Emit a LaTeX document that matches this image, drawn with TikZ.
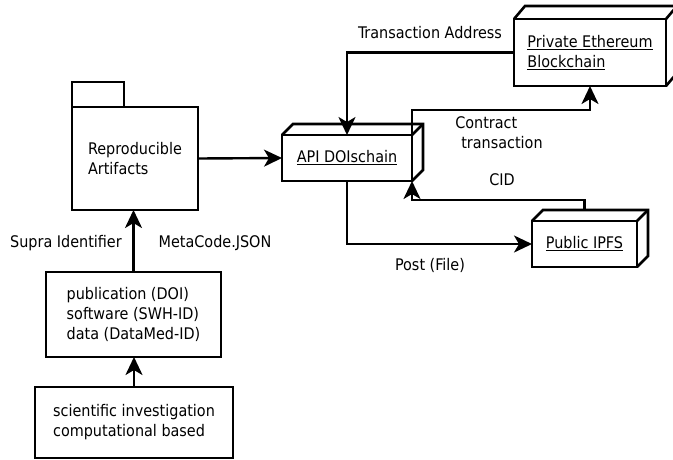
\documentclass[tikz,border=0pt]{standalone}
\usepackage{fontspec}
\setmainfont{DejaVu Sans Condensed}
\usetikzlibrary{arrows.meta,calc}

% side and top faces of a 3-D box drawn behind a node
\newcommand\cubefaces[3]{%
  \draw[thickline] (#1.north west) -- ++(#2,-#3)
    -- ($(#1.north east)+(#2,-#3)$) -- ($(#1.south east)+(#2,-#3)$)
    -- (#1.south east);
  \draw[thickline] (#1.north east) -- ++(#2,-#3);}

\begin{document}
\begin{tikzpicture}[x=1pt,y=-1pt,
  every node/.style={font=\fontsize{16}{20}\selectfont, inner sep=0pt, outer sep=0pt},
  thickline/.style={line width=2.6pt, line join=miter},
  box/.style={draw, thickline},
  link/.style={line width=2.4pt, -{Stealth[length=18pt,width=17pt,inset=5pt]}}]
\useasboundingbox (0,0) rectangle (673,459);

% main elements
\node[box, minimum width=126pt, minimum height=103pt, align=left] (art) at (135,158.5)
  {Reproducible\\Artifacts};
\draw[thickline] (art.north west) rectangle ++(52,-25);

\node[box, minimum width=130pt, minimum height=46pt] (api) at (347,158)
  {\underline{API DOIschain}};
\cubefaces{api}{11}{11}

\node[box, minimum width=152pt, minimum height=67pt, align=left] (eth) at (590,52.5)
  {\underline{Private Ethereum}\\\underline{Blockchain}};
\cubefaces{eth}{11}{13}

\node[box, minimum width=105pt, minimum height=46pt] (ipfs) at (584.5,244)
  {\underline{Public IPFS}};
\cubefaces{ipfs}{11}{11}
\coordinate (ipfstop) at ($(ipfs.north)+(0,-11)$);

\node[box, minimum width=175pt, minimum height=85pt, align=left] (pub) at (133.5,314.5)
  {publication (DOI)\\software (SWH-ID)\\data (DataMed-ID)};

\node[box, minimum width=198pt, minimum height=71pt, align=left] (sci) at (134,422.5)
  {scientific investigation\\computational based};

% labels
\node (ta) at (430,33) {Transaction Address};
\node[align=left] (ct) at (499,133) {Contract\\\hspace*{6pt}transaction};
\node (cid) at (502,180) {CID};
\node (pf) at (430,265) {Post (File)};
\node (si) at (66,243) {Supra Identifier};
\node (mc) at (215,243) {MetaCode.JSON};

% connectors
\draw[link] (art.east) -- (api.west);
\draw[link] (eth.west) -| (api.north);
\draw[link] (api.north east) -- ++(0,-25) -| (eth.south);
\draw[link] (ipfstop) -- ++(0,-10) -| (api.south east);
\draw[link] (api.south) |- (ipfs.west);
\draw[link] (pub.north) -- (pub.north |- art.south);
\draw[link] (sci.north) -- (sci.north |- pub.south);
\end{tikzpicture}
\end{document}
